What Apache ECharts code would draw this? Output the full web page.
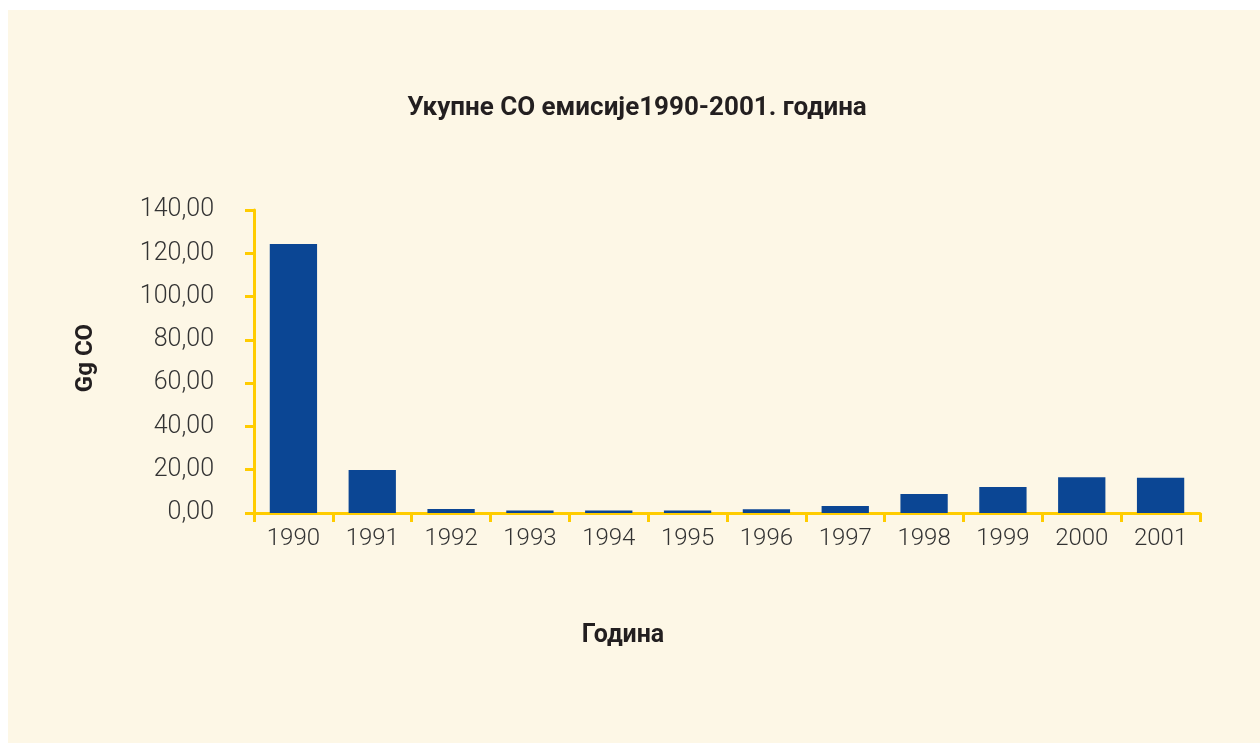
<!DOCTYPE html>
<html>
<head>
<meta charset="utf-8">
<script src="https://cdn.jsdelivr.net/npm/echarts@6/dist/echarts.min.js"></script>
<style>
  html, body { margin: 0; padding: 0; background: #ffffff; }
  #panel { position: absolute; left: 8px; top: 10px; width: 1252px; height: 733px; background: #fdf7e6; }
  #chart { width: 1252px; height: 733px; }
</style>
</head>
<body>
<div id="panel"><div id="chart"></div></div>
<script>
// године и емисије CO (Gg)
var years = ['1990', '1991', '1992', '1993', '1994', '1995', '1996', '1997', '1998', '1999', '2000', '2001'];
var emissions = [124.3, 19.9, 1.8, 1.1, 1.1, 1.1, 1.7, 3.2, 8.8, 12.0, 16.5, 16.3];

var yellow = '#ffcc00';
var txt = '#333333';

var chart = echarts.init(document.getElementById('chart'));
chart.setOption({
    animation: false,
    graphic: [
        {
            type: 'text', x: 629, y: 98,
            style: { text: 'Укупне CO емисије1990-2001. година', fontFamily: 'Roboto', fontWeight: 'bold', fontSize: 26,
                     fill: '#231f20', align: 'center', verticalAlign: 'middle' }
        },
        {
            type: 'text', x: 78, y: 348, rotation: Math.PI / 2,
            style: { text: 'Gg CO', fontFamily: 'Roboto', fontWeight: 'bold', fontSize: 24,
                     fill: '#231f20', align: 'center', verticalAlign: 'middle' }
        },
        {
            type: 'text', x: 615, y: 626,
            style: { text: 'Година', fontFamily: 'Roboto', fontWeight: 'bold', fontSize: 25,
                     fill: '#231f20', align: 'center', verticalAlign: 'middle' }
        }
    ],
    grid: { left: 246, right: 60, top: 200, bottom: 230 },
    xAxis: {
        type: 'category',
        data: years,
        axisLine: { lineStyle: { color: yellow, width: 3 } },
        axisTick: { show: true, length: 9, lineStyle: { color: yellow, width: 3 } },
        axisLabel: { color: txt, fontFamily: 'Roboto', fontWeight: 300, fontSize: 24, margin: 14 }
    },
    yAxis: {
        type: 'value',
        min: 0, max: 140, interval: 20,
        splitLine: { show: false },
        axisLine: { show: true, lineStyle: { color: yellow, width: 3 } },
        axisTick: { show: true, length: 9, lineStyle: { color: yellow, width: 3 } },
        axisLabel: {
            color: txt, fontFamily: 'Roboto', fontWeight: 300, fontSize: 25, margin: 40,
            formatter: function (v) { return v.toFixed(2).replace('.', ','); }
        }
    },
    series: [{
        type: 'bar',
        data: emissions,
        barCategoryGap: '40%',
        itemStyle: { color: '#0b4694' }
    }]
});
</script>
</body>
</html>
